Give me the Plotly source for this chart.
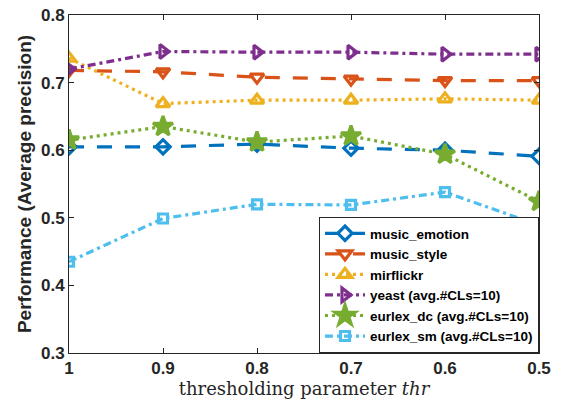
import plotly.graph_objects as go

thr = [1.0, 0.9, 0.8, 0.7, 0.6, 0.5]
tick_labels = ["1", "0.9", "0.8", "0.7", "0.6", "0.5"]

names = ["music_emotion", "music_style", "mirflickr",
         "yeast (avg.#CLs=10)", "eurlex_dc (avg.#CLs=10)", "eurlex_sm (avg.#CLs=10)"]

music_emotion = [0.605, 0.605, 0.609, 0.603, 0.600, 0.591]
music_style = [0.718, 0.716, 0.708, 0.705, 0.703, 0.703]
mirflickr = [0.736, 0.669, 0.674, 0.674, 0.676, 0.674]
yeast = [0.720, 0.746, 0.745, 0.745, 0.742, 0.742]
eurlex_dc = [0.615, 0.635, 0.612, 0.621, 0.594, 0.524]
eurlex_sm = [0.435, 0.499, 0.520, 0.519, 0.538, 0.489]

series = [music_emotion, music_style, mirflickr, yeast, eurlex_dc, eurlex_sm]
colors = ["#0072BD", "#D95319", "#EDB120", "#7E2F8E", "#77AC30", "#4DBEEE"]
symbols = ["diamond-open", "triangle-down-open", "triangle-up-open",
           "triangle-right-open", "star", "square-open"]
dashes = ["15px,13px", "15px,13px", "3px,4px", "8px,4px,3px,4px", "3px,4px", "8px,4px,3px,4px"]
msizes = [11, 12, 12, 12, 15, 9]

fig = go.Figure()
for name, vals, c, s, d, ms in zip(names, series, colors, symbols, dashes, msizes):
    fig.add_trace(go.Scatter(
        x=thr, y=vals, name=name, mode="lines+markers",
        line=dict(color=c, width=3.2, dash=d),
        marker=dict(symbol=s, size=ms, color=c, line=dict(color=c, width=3.2)),
    ))

axis_font = dict(family="Liberation Sans, Arial", size=17, color="#262626", weight="bold")
fig.update_layout(
    width=561, height=404,
    margin=dict(l=69, r=22, t=15, b=51, autoexpand=False),
    paper_bgcolor="white", plot_bgcolor="white",
    showlegend=True,
    legend=dict(
        x=1, y=0, xanchor="right", yanchor="bottom",
        bgcolor="white", bordercolor="#262626", borderwidth=1,
        font=dict(family="Liberation Sans, Arial", size=13.5, color="black", weight="bold"),
        tracegroupgap=0, itemwidth=40,
    ),
    xaxis=dict(
        range=[1.0, 0.5], tickvals=thr, ticktext=tick_labels,
        ticks="inside", ticklen=5, tickcolor="#262626",
        showline=True, linecolor="#262626", linewidth=1, mirror="ticks",
        showgrid=False, zeroline=False, tickfont=axis_font, automargin=False,
        title=dict(text="thresholding parameter <i>thr</i>",
                   font=dict(family="DejaVu Serif, Liberation Serif", size=18, color="#262626"),
                   standoff=4),
    ),
    yaxis=dict(
        range=[0.3, 0.8], dtick=0.1, tickformat=".1f",
        ticks="inside", ticklen=5, tickcolor="#262626",
        showline=True, linecolor="#262626", linewidth=1, mirror="ticks",
        showgrid=False, zeroline=False, tickfont=axis_font, automargin=False,
        title=dict(text="Performance (Average precision)",
                   font=dict(family="Liberation Sans, Arial", size=19, color="#262626", weight="bold"),
                   standoff=4),
    ),
)

fig.write_html("out.html", config={"displayModeBar": False},
               post_script="document.body.style.margin='0px';document.body.style.overflow='hidden';")
